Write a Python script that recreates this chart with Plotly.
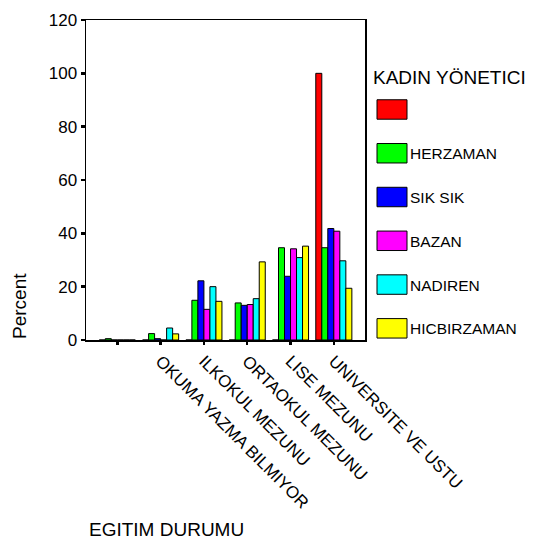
import plotly.graph_objects as go

categories = ["", "OKUMA YAZMA BILMIYOR", "ILKOKUL MEZUNU", "ORTAOKUL MEZUNU",
              "LISE MEZUNU", "UNIVERSITE VE USTU"]
series_names = ["", "HERZAMAN", "SIK SIK", "BAZAN", "NADIREN", "HICBIRZAMAN"]
series_colors = ["#ff0000", "#00ff00", "#0000ff", "#ff00ff", "#00ffff", "#ffff00"]

blank_vals = [0, 0, 0, 0, 0, 100]
herzaman_vals = [0.5, 2.4, 14.9, 13.9, 34.6, 34.6]
siksik_vals = [0, 0.5, 22.2, 13.0, 23.9, 41.8]
bazan_vals = [0, 0, 11.5, 13.3, 34.2, 40.8]
nadiren_vals = [0, 4.5, 20.0, 15.5, 30.9, 29.7]
hicbirzaman_vals = [0, 2.3, 14.5, 29.3, 35.2, 19.4]
all_vals = [blank_vals, herzaman_vals, siksik_vals, bazan_vals, nadiren_vals, hicbirzaman_vals]

y_ticks = [0, 20, 40, 60, 80, 100, 120]

W, H = 534, 554
# plot area in screen pixels
PL, PR, PT, PB = 86, 365, 11, 340
FONT = "Liberation Sans, Arial, sans-serif"

def px(x):
    return (x - PL) / (PR - PL)

def py(y):
    return (PB - y) / (PB - PT)

xpos = list(range(len(categories)))

fig = go.Figure()
for name, color, vals in zip(series_names, series_colors, all_vals):
    fig.add_trace(go.Bar(
        x=xpos, y=vals, name=name,
        marker=dict(color=color, line=dict(color="black", width=1)),
        showlegend=False, hoverinfo="skip",
    ))

shapes = []
annotations = []
# manual legend
annotations.append(dict(text="KADIN YÖNETICI", xref="paper", yref="paper",
                        x=px(371), y=py(70), xanchor="left", yanchor="middle",
                        showarrow=False, font=dict(size=19, color="black", family=FONT)))
for i, (name, color) in enumerate(zip(series_names, series_colors)):
    top = 93 + 45.0 * i
    shapes.append(dict(type="rect", xref="paper", yref="paper",
                       x0=px(377), x1=px(407), y0=py(top), y1=py(top + 20),
                       fillcolor=color, line=dict(color="black", width=1)))
    if name:
        annotations.append(dict(text=name, xref="paper", yref="paper",
                                x=px(408), y=py(top + 10.5), xanchor="left", yanchor="middle",
                                showarrow=False, font=dict(size=15.5, color="black", family=FONT)))

annotations.append(dict(text="EGITIM DURUMU", xref="paper", yref="paper",
                        x=px(87), y=py(535), xanchor="left", yanchor="middle",
                        showarrow=False, font=dict(size=19, color="black", family=FONT)))
annotations.append(dict(text="Percent", xref="paper", yref="paper",
                        x=px(20), y=py(305), xanchor="center", yanchor="middle", textangle=-90,
                        showarrow=False, font=dict(size=19, color="black", family=FONT)))

fig.update_layout(
    width=W, height=H,
    margin=dict(l=PL, r=W - PR, t=PT, b=H - PB, pad=0),
    paper_bgcolor="white", plot_bgcolor="white",
    barmode="group", bargap=0.167, bargroupgap=0,
    font=dict(family=FONT, color="black"),
    shapes=shapes, annotations=annotations,
    xaxis=dict(range=[-0.723, 5.72], tickmode="array", tickvals=xpos, ticktext=categories,
               tickangle=45, ticks="outside", ticklen=3, tickwidth=2.5, tickcolor="black",
               showline=True, linecolor="black", linewidth=1.5, mirror=True,
               showgrid=False, zeroline=False, tickfont=dict(size=17, family=FONT)),
    yaxis=dict(range=[0, 120], tickmode="array", tickvals=y_ticks,
               ticks="outside", ticklen=4, tickwidth=2.5, tickcolor="black",
               showline=True, linecolor="black", linewidth=1.5, mirror=True,
               ticklabeloverflow="allow",
               showgrid=False, zeroline=False, tickfont=dict(size=17, family=FONT)),
)

fig.write_html("out.html", config={"displayModeBar": False, "staticPlot": True},
               post_script="document.body.style.margin='0px';document.body.style.overflow='hidden';")
